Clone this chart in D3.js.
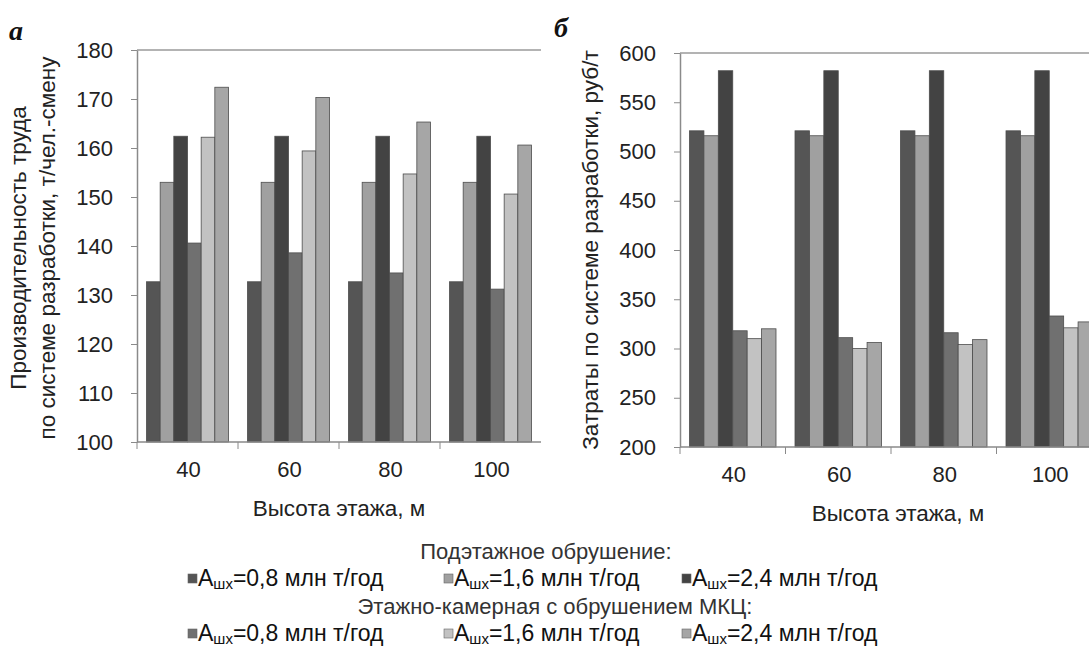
<!DOCTYPE html>
<html>
<head>
<meta charset="utf-8">
<script src="https://cdn.jsdelivr.net/npm/d3@7"></script>
<style>
  body { margin: 0; background: #fff; }
  svg { display: block; font-family: "Liberation Sans", Arial, sans-serif; }
</style>
</head>
<body>
<svg id="chart" width="1089" height="664"></svg>
<script>
// floor heights, m
const heights = ["40", "60", "80", "100"];

// series keys / legend labels
const seriesKeys = ["sub08", "sub16", "sub24", "cam08", "cam16", "cam24"];
const seriesRates = ["0,8", "1,6", "2,4", "0,8", "1,6", "2,4"];
const seriesColors = ["#555555", "#a0a0a0", "#434343", "#707070", "#c2c2c2", "#a6a6a6"];

// (a) labour productivity, t per man-shift
const prodSub08 = [132.7, 132.7, 132.7, 132.7];
const prodSub16 = [153.0, 153.0, 153.0, 153.0];
const prodSub24 = [162.4, 162.4, 162.4, 162.4];
const prodCam08 = [140.6, 138.6, 134.5, 131.2];
const prodCam16 = [162.2, 159.4, 154.7, 150.6];
const prodCam24 = [172.4, 170.3, 165.3, 160.6];
const prodTicks = [100, 110, 120, 130, 140, 150, 160, 170, 180];

// (б) costs, rub per t
const costSub08 = [521, 521, 521, 521];
const costSub16 = [516, 516, 516, 516];
const costSub24 = [582, 582, 582, 582];
const costCam08 = [318, 311, 316, 333];
const costCam16 = [310, 300, 304, 321];
const costCam24 = [320, 306, 309, 327];
const costTicks = [200, 250, 300, 350, 400, 450, 500, 550, 600];

const svg = d3.select("#chart");
const AXIS = "#8a8a8a";
const FS = "22px";

function toRows(arrays) {
  return heights.map((h, i) => {
    const row = {h};
    seriesKeys.forEach((k, j) => row[k] = arrays[j][i]);
    return row;
  });
}

function drawPanel(cfg) {
  const g = svg.append("g").attr("id", cfg.id);
  const x = d3.scaleBand().domain(heights).range([cfg.left, cfg.left + cfg.band * heights.length]);
  const xs = d3.scaleBand().domain(seriesKeys).range([cfg.inner, cfg.band - cfg.inner]);
  const y = d3.scaleLinear().domain(cfg.domain).range([cfg.bottom, cfg.top]);

  // top frame line
  g.append("line")
    .attr("x1", cfg.left).attr("x2", x.range()[1])
    .attr("y1", cfg.top).attr("y2", cfg.top)
    .attr("stroke", "#9a9a9a").attr("stroke-width", 1.5);

  const groups = g.selectAll("g.grp")
    .data(toRows(cfg.data))
    .enter().append("g")
    .attr("class", "grp")
    .attr("transform", d => `translate(${x(d.h)},0)`);

  groups.selectAll("rect")
    .data(d => seriesKeys.map((k, i) => ({k, v: d[k], i})))
    .enter().append("rect")
    .attr("x", d => xs(d.k))
    .attr("y", d => y(d.v))
    .attr("width", xs.bandwidth())
    .attr("height", d => cfg.bottom - y(d.v))
    .attr("fill", d => seriesColors[d.i])
    .attr("stroke", "#4d4d4d")
    .attr("stroke-width", 0.8);

  // y axis
  const ya = g.append("g")
    .attr("transform", `translate(${cfg.left},0)`)
    .call(d3.axisLeft(y).tickValues(cfg.ticks).tickSize(6).tickSizeOuter(0).tickPadding(18));
  ya.select(".domain").attr("stroke", AXIS).attr("stroke-width", 1.5);
  ya.selectAll(".tick line").attr("stroke", AXIS);
  ya.selectAll(".tick text").attr("fill", "#222").style("font-size", FS)
    .style("font-family", "'Liberation Sans', Arial, sans-serif");

  // x axis: baseline, boundary ticks, centred labels
  const xa = g.append("g").attr("transform", `translate(0,${cfg.bottom})`);
  xa.append("line").attr("x1", cfg.left).attr("x2", x.range()[1])
    .attr("stroke", AXIS).attr("stroke-width", 1.5);
  xa.selectAll("line.tk").data(heights).enter().append("line")
    .attr("class", "tk")
    .attr("x1", d => x(d)).attr("x2", d => x(d))
    .attr("y1", 0).attr("y2", 7)
    .attr("stroke", AXIS);
  xa.selectAll("text").data(heights).enter().append("text")
    .attr("x", d => x(d) + x.bandwidth() / 2 + 1)
    .attr("y", 35)
    .attr("text-anchor", "middle")
    .attr("fill", "#222").style("font-size", FS)
    .text(d => d);

  g.append("text")
    .attr("x", cfg.xTitleX).attr("y", cfg.bottom + 74)
    .attr("text-anchor", "middle")
    .attr("fill", "#222").style("font-size", "22.5px")
    .text("Высота этажа,  м");

  // y title
  cfg.yTitle.forEach((t, i) => {
    g.append("text")
      .attr("transform", `translate(${cfg.yTitleX[i]},${cfg.yTitleY}) rotate(-90)`)
      .attr("text-anchor", "middle")
      .attr("fill", "#222").style("font-size", "22.5px")
      .text(t);
  });

  // panel letter
  g.append("text")
    .attr("x", cfg.letterX).attr("y", cfg.letterY)
    .style("font-family", "'Liberation Serif', 'Times New Roman', serif")
    .style("font-size", "28px").style("font-weight", "bold").style("font-style", "italic")
    .attr("fill", "#111")
    .text(cfg.letter);
}

drawPanel({
  id: "panel-a", letter: "а", letterX: 9, letterY: 40,
  left: 137, band: 101, inner: 9.5, top: 50, bottom: 442,
  domain: [100, 180], ticks: prodTicks,
  data: [prodSub08, prodSub16, prodSub24, prodCam08, prodCam16, prodCam24],
  yTitle: ["Производительность  труда", "по системе разработки, т/чел.-смену"],
  yTitleX: [26, 55], yTitleY: 248, xTitleX: 339
});

drawPanel({
  id: "panel-b", letter: "б", letterX: 554, letterY: 37,
  left: 680, band: 105.5, inner: 9.5, top: 53, bottom: 447,
  domain: [200, 600], ticks: costTicks,
  data: [costSub08, costSub16, costSub24, costCam08, costCam16, costCam24],
  yTitle: ["Затраты по системе  разработки, руб/т"],
  yTitleX: [598], yTitleY: 250, xTitleX: 898
});

// legend
const legend = svg.append("g").attr("id", "legend").attr("fill", "#111");
const legendHeads = ["Подэтажное  обрушение:", "Этажно-камерная  с обрушением  МКЦ:"];
const headX = [546, 555];
const headY = [559, 614];
const rowY = [586, 641];
const itemX = [188, 444, 682];

legend.selectAll("text.head").data(legendHeads).enter().append("text")
  .attr("class", "head")
  .attr("x", (d, i) => headX[i]).attr("y", (d, i) => headY[i])
  .attr("text-anchor", "middle").attr("fill", "#333")
  .style("font-size", "22px")
  .text(d => d);

const items = legend.selectAll("g.item").data(seriesKeys).enter().append("g")
  .attr("class", "item")
  .attr("transform", (d, i) => `translate(${itemX[i % 3]},${rowY[Math.floor(i / 3)]})`);
items.append("rect")
  .attr("x", 0).attr("y", -12).attr("width", 9).attr("height", 9)
  .attr("fill", (d, i) => seriesColors[i])
  .attr("stroke", "#666").attr("stroke-width", 0.6);
const lt = items.append("text").attr("x", 10).attr("y", 0).style("font-size", "23px");
lt.append("tspan").text("A");
lt.append("tspan").attr("dy", 3).style("font-size", "15px").text("шх");
lt.append("tspan").attr("dy", -3).text((d, i) => `=${seriesRates[i]} млн т/год`);
</script>
</body>
</html>
